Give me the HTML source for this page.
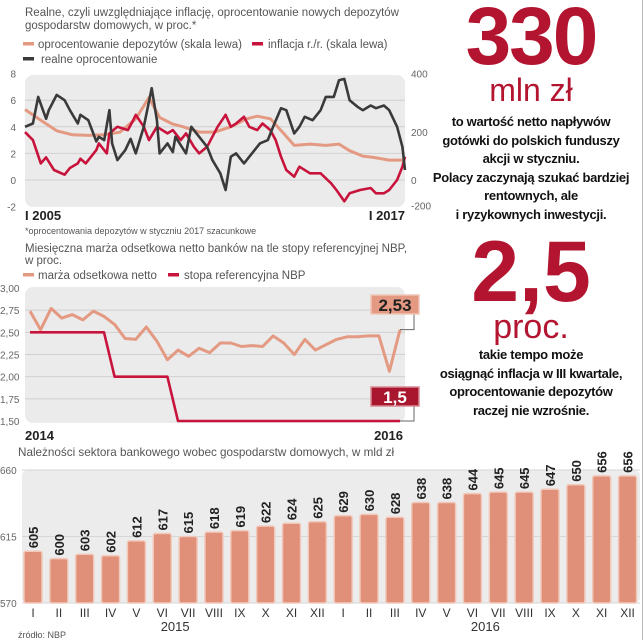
<!DOCTYPE html>
<html><head><meta charset="utf-8">
<style>
body{margin:0;background:#fff;width:644px;height:640px;overflow:hidden;font-family:"Liberation Sans",sans-serif;}
svg text{font-family:"Liberation Sans",sans-serif;}
.side{position:absolute;left:418px;width:226px;text-align:center;color:#111;}
.big{color:#b3142f;font-weight:bold;}
.body{font-weight:bold;font-size:13px;line-height:18.5px;letter-spacing:-0.3px;white-space:nowrap;}
</style></head><body>
<div style="position:absolute;left:642px;top:0;width:1px;height:640px;background:#bbb"></div>
<div class="side big" style="top:-8px;font-size:82px;line-height:90px;letter-spacing:-2px">330</div>
<div class="side big" style="top:72px;font-size:32px;line-height:36px;font-weight:normal">mln zł</div>
<div class="side body" style="top:113px">to wartość netto napływów<br>gotówki do polskich funduszy<br>akcji w styczniu.<br>Polacy zaczynają szukać bardziej<br>rentownych, ale<br>i ryzykownych inwestycji.</div>
<div class="side big" style="top:226px;font-size:86px;line-height:92px">2,5</div>
<div class="side big" style="top:308px;font-size:34px;line-height:38px;font-weight:normal">proc.</div>
<div class="side body" style="top:346px">takie tempo może<br>osiągnąć inflacja w III kwartale,<br>oprocentowanie depozytów<br>raczej nie wzrośnie.</div>

<svg id="chart" width="644" height="640" style="position:absolute;left:0;top:0" xmlns="http://www.w3.org/2000/svg"></svg>
<script>
// ---- top chart data (months since I 2005) ----
const depMonths=[0,6,12,18,24,30,36,42,47,51,56,60,66,72,78,84,88,93,98,102,108,114,119,123,128,132,138,144];
const depValues=[5.3,4.5,3.7,3.4,3.35,3.4,3.6,4.6,6.2,4.7,4.2,4.0,3.6,3.6,4.0,4.6,4.8,4.6,3.5,2.6,2.7,2.6,2.7,2.2,1.8,1.7,1.5,1.5];
const infMonths=[0,3,6,8,11,15,17,20,21,23,27,28,31,32,35,39,41,42,45,47,50,54,56,59,61,64,66,69,73,76,78,80,83,85,88,90,93,95,97,99,102,104,108,112,116,118,121,123,127,131,133,136,138,141,143,144];
const infValues=[3.6,3,1.25,1.7,0.75,0.4,0.9,1.25,1.6,1.25,2.25,2.75,2,3.5,4,3.75,4.5,4.9,4,3,4,3.5,3.75,3,3.5,2.5,2,2.5,4,4.9,4,4.25,4.75,4,3.75,4.25,3.75,3,1.75,0.75,0.25,1,0.5,0.5,-0.25,-0.75,-1.6,-1,-0.75,-0.6,-1,-1,-0.75,0,1,1.75];
const realMonths=[0,3,5,8,9,12,15,17,20,21,24,27,28,30,32,33,35,38,40,42,45,48,50,51,54,56,57,61,63,65,69,71,74,76,78,80,83,87,89,92,94,97,99,102,104,106,109,112,114,117,119,121,123,126,128,131,133,136,138,141,143,144];
const realValues=[4,4.25,6.25,4.6,5.25,6.4,6,5.25,4.25,4.9,4.5,2.9,3.25,3,5.25,2.75,1.5,2.25,3.1,2,4,6.9,4.5,2,2.75,2.1,3.25,2,4,3.5,2.5,1.5,0.5,-0.75,1.75,2,1.25,2.25,2.75,3,4,5.4,5.25,3.5,4,4.75,4.5,5.25,6.25,6.25,7.5,7.6,6,5.5,5.25,5.6,5.4,5.6,5.25,4,2.5,0.75];
const topLeftTicks=[8,6,4,2,0,-2];
const topRightTicks=["400","200","0","-200"];
const topRightTickVals=[8,3.6,0,-1.9];
// ---- middle chart data (months since I 2014) ----
const marginValues=[2.74,2.53,2.77,2.66,2.70,2.64,2.74,2.68,2.59,2.43,2.42,2.56,2.40,2.19,2.30,2.23,2.32,2.27,2.38,2.38,2.34,2.35,2.34,2.46,2.38,2.25,2.42,2.30,2.36,2.42,2.45,2.45,2.46,2.46,2.06,2.53];
const rateValues=[2.5,2.5,2.5,2.5,2.5,2.5,2.5,2.5,2.0,2.0,2.0,2.0,2.0,2.0,1.5,1.5,1.5,1.5,1.5,1.5,1.5,1.5,1.5,1.5,1.5,1.5,1.5,1.5,1.5,1.5,1.5,1.5,1.5,1.5,1.5,1.5];
const midTicks=["3,00","2,75","2,50","2,25","2,00","1,75","1,50"];
const midTickVals=[3,2.75,2.5,2.25,2,1.75,1.5];
// ---- bottom chart data ----
const barMonths=["I","II","III","IV","V","VI","VII","VIII","IX","X","XI","XII","I","II","III","IV","V","VI","VII","VIII","IX","X","XI","XII"];
const barValues=[605,600,603,602,612,617,615,618,619,622,624,625,629,630,628,638,638,644,645,645,647,650,656,656];
const barTicks=[660,615,570];

const svg=document.getElementById('chart');
const NS='http://www.w3.org/2000/svg';
function mk(tag,attrs,parent){const e=document.createElementNS(NS,tag);for(const k in attrs)e.setAttribute(k,attrs[k]);(parent||svg).appendChild(e);return e;}
function txt(s,x,y,size,fill,anchor,weight,name){const t=mk('text',{x:x,y:y,'font-size':size,fill:fill,'text-anchor':anchor||'start','font-weight':weight||'normal'});t.textContent=s;return t;}

// ===== TOP CHART =====
const tx=m=>25+m/144*380, ty=v=>180-v*13.3;
txt('Realne, czyli uwzględniające inflację, oprocentowanie nowych depozytów',25,16,11.5,'#555','start','normal','top-title-line1');
txt('gospodarstw domowych, w proc.*',25,29,11.5,'#555','start','normal','top-title-line2');
let r;
r=mk('rect',{x:23,y:42,width:11,height:3.5,fill:'#e49a82'});
txt('oprocentowanie depozytów (skala lewa)',38,48,11.5,'#555','start','normal','legend-deposit');
r=mk('rect',{x:252,y:42,width:11,height:3.5,fill:'#c8143c'});
txt('inflacja r./r. (skala lewa)',268,48,11.5,'#555','start','normal','legend-inflation');
r=mk('rect',{x:23,y:57,width:11,height:3.5,fill:'#3a3a3a'});
txt('realne oprocentowanie',41,63,11.5,'#555','start','normal','legend-real');
r=mk('rect',{x:25,y:75,width:380,height:132,rx:8,fill:'#ebebeb'});
topLeftTicks.forEach(v=>{
  if(v<8&&v>-2){const l=mk('line',{x1:25,x2:405,y1:ty(v),y2:ty(v),stroke:'#d0d0d0','stroke-width':1});}
  txt(String(v),16,ty(v)+4,10,'#666','end','normal','top-left-tick');
});
topRightTicks.forEach((s,i)=>txt(s,411,ty(topRightTickVals[i])+4,10,'#666','start','normal','top-right-tick'));
function line(xs,ys,fx,fy,color,w,name){const d=xs.map((x,i)=>(i?'L':'M')+fx(x).toFixed(1)+','+fy(ys[i]).toFixed(1)).join('');const p=mk('path',{d:d,fill:'none',stroke:color,'stroke-width':w,'stroke-linejoin':'round'});return p;}
line(depMonths,depValues,tx,ty,'#e49a82',3,'deposit-rate-line');
line(infMonths,infValues,tx,ty,'#c8143c',2.6,'inflation-line');
line(realMonths,realValues,tx,ty,'#3a3a3a',2.6,'real-rate-line');
txt('I 2005',25,220,13,'#222','start','bold','top-x-label-start');
txt('I 2017',405,220,13,'#222','end','bold','top-x-label-end');
txt('*oprocentowania depozytów w styczniu 2017 szacunkowe',25,234,9,'#555','start','normal','top-footnote');

// ===== MIDDLE CHART =====
const mx=m=>30+m*370/35, my=v=>288+(3-v)/1.5*133;
txt('Miesięczna marża odsetkowa netto banków na tle stopy referencyjnej NBP,',25,252,11.5,'#555','start','normal','mid-title-line1');
txt('w proc.',25,264,11.5,'#555','start','normal','mid-title-line2');
r=mk('rect',{x:23,y:273,width:11,height:3.5,fill:'#e49a82'});
txt('marża odsetkowa netto',38,279,11.5,'#555','start','normal','legend-margin');
r=mk('rect',{x:168,y:273,width:11,height:3.5,fill:'#c8143c'});
txt('stopa referencyjna NBP',184,279,11.5,'#555','start','normal','legend-rate');
r=mk('rect',{x:25,y:287,width:380,height:136,rx:8,fill:'#ebebeb'});
midTickVals.forEach((v,i)=>{
  if(i>0&&i<6){const l=mk('line',{x1:25,x2:405,y1:my(v),y2:my(v),stroke:'#d0d0d0','stroke-width':1});}
  txt(midTicks[i],0,my(v)+4,10,'#666','start','normal','mid-y-tick');
});
const idx=marginValues.map((_,i)=>i);
line(idx,marginValues,mx,my,'#e49a82',3,'margin-line');
line(idx,rateValues,mx,my,'#c8143c',2.6,'rate-line');
const lm=marginValues.length-1;
let c=mk('path',{d:`M${mx(lm)},${my(marginValues[lm])}H414V312`,fill:'none',stroke:'#666','stroke-width':1});
c=mk('path',{d:`M${mx(lm)},${my(rateValues[lm])}H414V404`,fill:'none',stroke:'#666','stroke-width':1});
r=mk('rect',{x:371,y:295,width:48,height:19,fill:'#e49a82',stroke:'#f0c6b8','stroke-width':1.5});
txt(String(marginValues[lm].toFixed(2)).replace('.',','),395,311,17,'#222','middle','bold','margin-callout-value');
r=mk('rect',{x:371,y:387,width:48,height:19,fill:'#a8172e',stroke:'#d98a95','stroke-width':1.5});
txt(String(rateValues[lm]).replace('.',','),395,403,17,'#fff','middle','bold','rate-callout-value');
txt('2014',25,440,13,'#222','start','bold','mid-x-label-start');
txt('2016',403,440,13,'#222','end','bold','mid-x-label-end');

// ===== BOTTOM CHART =====
const bx=i=>33+i*25.85, by=v=>603-(v-570)*133/90;
txt('Należności sektora bankowego wobec gospodarstw domowych, w mld zł',18,456,11.7,'#555','start','normal','bottom-title');
r=mk('rect',{x:22,y:470,width:618,height:133,rx:6,fill:'#ececec'});
barTicks.forEach(v=>{
  const l=mk('line',{x1:22,x2:640,y1:by(v),y2:by(v),stroke:'#d6d6d6','stroke-width':1});
  txt(String(v),0,by(v)+4,10,'#666','start','normal','bottom-y-tick');
});
barValues.forEach((v,i)=>{
  const b=mk('rect',{x:bx(i)-9,y:by(v),width:18,height:603-by(v),fill:'#e08f78',stroke:'#f1c8ba','stroke-width':1.5,rx:2});
  
  
  const t=txt(String(v),0,0,13,'#222','start','bold','bar-value-label');
  t.setAttribute('transform',`translate(${bx(i)+5},${by(v)-3}) rotate(-90)`);
  txt(barMonths[i],bx(i),617,12,'#333','middle','normal','bottom-month-label');
});
txt('2015',(bx(0)+bx(11))/2,631,13,'#333','middle','normal','bottom-year-2015');
txt('2016',(bx(12)+bx(23))/2,631,13,'#333','middle','normal','bottom-year-2016');
txt('źródło: NBP',18,638,9,'#555','start','normal','source-note');
</script>
</body></html>
